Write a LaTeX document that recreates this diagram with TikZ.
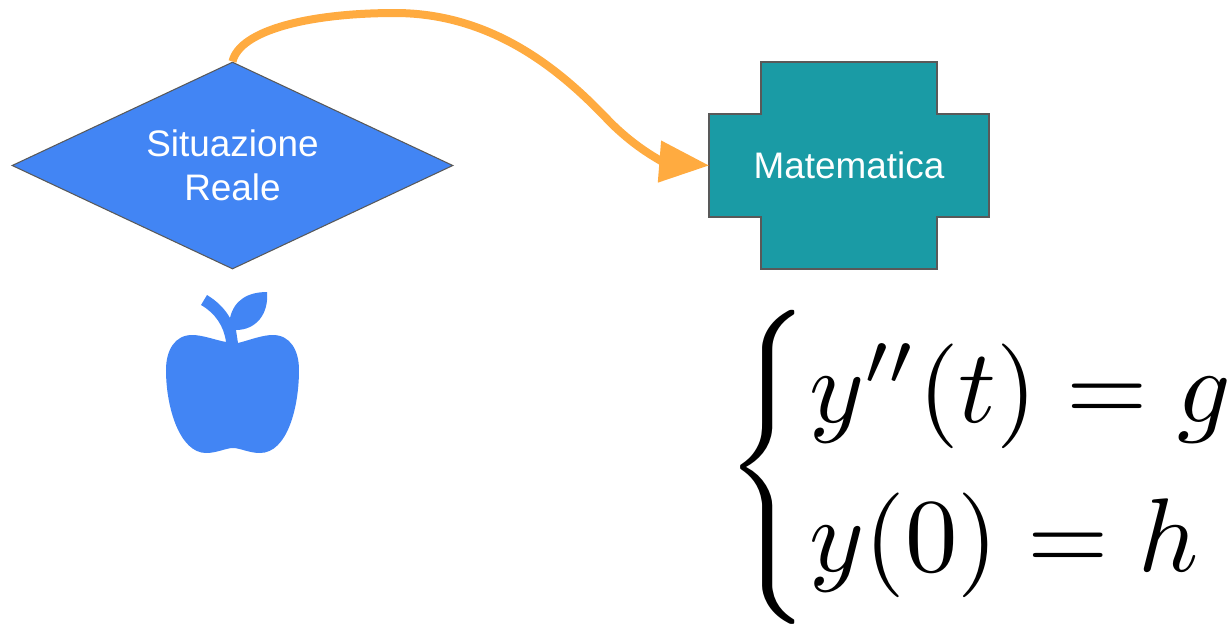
\documentclass[tikz,border=0pt]{standalone}
\usepackage{fontspec}
\usepackage{amsmath}
\setmainfont{Liberation Sans}
\usetikzlibrary{arrows.meta,shapes.geometric}
\definecolor{appleblue}{HTML}{4285F4}
\definecolor{mathteal}{HTML}{1A9BA5}
\definecolor{edgegrey}{HTML}{595959}
\definecolor{curveorange}{HTML}{FFAB40}
\tikzset{
  boxtext/.style={font=\fontsize{10.5}{12.5}\selectfont, text=white, align=center, inner sep=0pt},
  curvearrow/.style={curveorange, line width=0.8mm, -{Triangle[length=5mm,width=4mm]}},
}
\begin{document}
\begin{tikzpicture}[x=0.1mm, y=-0.1mm]
  \useasboundingbox (0,0) rectangle (1230,625);
  \node[boxtext, shape=diamond, draw=edgegrey, line width=0.3pt, fill=appleblue,
    minimum width=44.1mm, minimum height=20.7mm, aspect=2.13] (real) at (232.5,165.5) {Situazione\\Reale};
  \draw[fill=mathteal, draw=edgegrey, line width=0.5pt]
    (761,62) -- (937,62) -- (937,114) -- (989,114) -- (989,217) -- (937,217)
    -- (937,269) -- (761,269) -- (761,217) -- (709,217) -- (709,114) -- (761,114) -- cycle;
  \node[boxtext, minimum width=27.8mm, minimum height=20.7mm] (mat) at (849,165.5) {Matematica};
  \draw[curvearrow] (real.north) .. controls (240,30) and (310,13) .. (395,13)
    .. controls (500,13) and (570,80) .. (610,122)
    .. controls (640,152) and (665,162) .. (mat.west);
  % apple
  \fill[appleblue] (238,343) .. controls (250,340) and (262,335) .. (273,335)
    .. controls (290,335) and (299,350) .. (299,370)
    .. controls (299,408) and (287,453) .. (260,453)
    .. controls (249,453) and (240,448) .. (233,448)
    .. controls (226,448) and (217,453) .. (206,453)
    .. controls (180,453) and (166,408) .. (166,370)
    .. controls (166,350) and (175,335) .. (192,335)
    .. controls (203,335) and (215,340) .. (226,342)
    .. controls (224,326) and (215,313) .. (201,305)
    -- (207,295)
    .. controls (217,301) and (225,309) .. (230,318)
    .. controls (234,300) and (248,292) .. (267,292)
    .. controls (269,314) and (256,330) .. (236,330) -- cycle;
  \node[inner sep=0pt, anchor=west, scale=2.98] (eqn) at (723,467)
    {$\left\{\renewcommand{\arraystretch}{1.19}\begin{array}{@{}l@{}} y''(t)=g\\ y(0)=h \end{array}\right.$};
\end{tikzpicture}
\end{document}
